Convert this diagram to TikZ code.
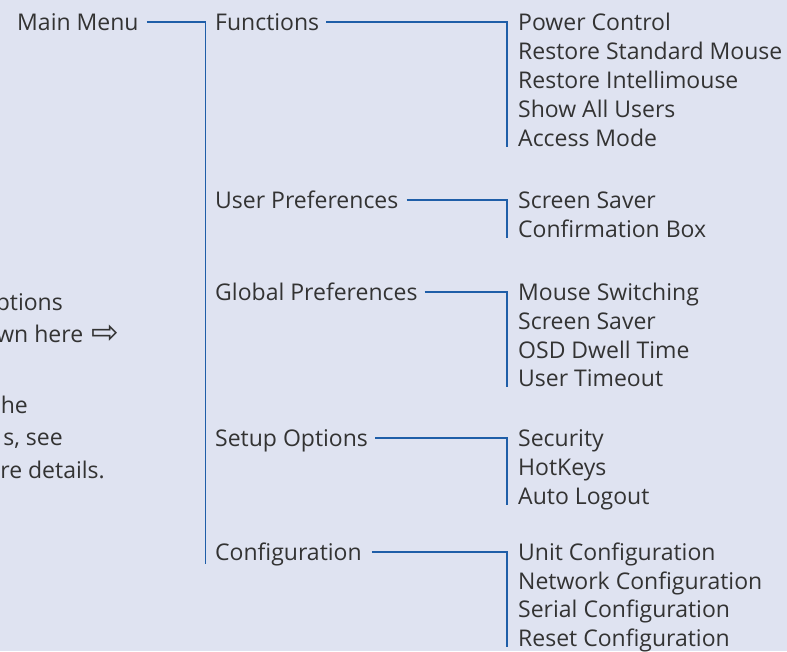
\documentclass[tikz,border=0pt]{standalone}
\usepackage{fontspec}
\setmainfont{Open Sans}
\newfontfamily\symfont{DejaVu Sans}
\definecolor{bg}{RGB}{223,227,241}
\definecolor{linecol}{RGB}{31,94,168}
\definecolor{txtcol}{RGB}{51,51,51}
\begin{document}
\begin{tikzpicture}[x=1pt,y=-1pt,
  lbl/.style={inner sep=0pt, text height=17pt, text depth=0pt, anchor=west,
    font=\fontsize{23}{28}\selectfont, text=txtcol},
  note/.style={lbl, anchor=east},
  conn/.style={draw=linecol, line width=1.6pt}]
\fill[bg] (0,0) rectangle (787,651);
\useasboundingbox (0,0) rectangle (787,651);
\clip (0,0) rectangle (787,651);

% left note (cut off at the left edge)
\node[note] (n1) at (63,301.5) {options};
\node[note] (n2) at (119,333.5) {wn here\hspace{8pt}{\symfont\fontsize{33}{34}\selectfont\raisebox{-1.5pt}{⇨}}};
\node[note] (n3) at (28,404.5) {he};
\node[note] (n4) at (63,436.5) {s, see};
\node[note] (n5) at (105,469.5) {re details.};

% root
\node[lbl] (main) at (17,22) {Main Menu};

% level 1
\node[lbl] (fn) at (215,22) {Functions};
\node[lbl] (up) at (215,200) {User Preferences};
\node[lbl] (gp) at (215,292) {Global Preferences};
\node[lbl] (so) at (215,438) {Setup Options};
\node[lbl] (cf) at (215,552) {Configuration};

% level 2
\node[lbl] (f1) at (518,22) {Power Control};
\node[lbl] (f2) at (518,51) {Restore Standard Mouse};
\node[lbl] (f3) at (518,80) {Restore Intellimouse};
\node[lbl] (f4) at (518,109) {Show All Users};
\node[lbl] (f5) at (518,138) {Access Mode};

\node[lbl] (u1) at (518,200) {Screen Saver};
\node[lbl] (u2) at (518,229) {Confirmation Box};

\node[lbl] (g1) at (518,292) {Mouse Switching};
\node[lbl] (g2) at (518,321) {Screen Saver};
\node[lbl] (g3) at (518,350) {OSD Dwell Time};
\node[lbl] (g4) at (518,378) {User Timeout};

\node[lbl] (s1) at (518,438) {Security};
\node[lbl] (s2) at (518,467) {HotKeys};
\node[lbl] (s3) at (518,496) {Auto Logout};

\node[lbl] (c1) at (518,552) {Unit Configuration};
\node[lbl] (c2) at (518,581) {Network Configuration};
\node[lbl] (c3) at (518,609) {Serial Configuration};
\node[lbl] (c4) at (518,638) {Reset Configuration};

% connectors
\draw[conn] ([xshift=8pt]main.east) -| ([xshift=-9.5pt]fn.west) -- ([xshift=-9.5pt,yshift=-3pt]cf.south west);
\draw[conn] ([xshift=7pt]fn.east) -| ([xshift=-11pt]f1.west) -- ([xshift=-11pt]f5.south west);
\draw[conn] ([xshift=8pt]up.east) -| ([xshift=-11pt]u1.west) -- ([xshift=-11pt]u2.south west);
\draw[conn] ([xshift=7pt]gp.east) -| ([xshift=-11pt]g1.west) -- ([xshift=-11pt]g4.south west);
\draw[conn] ([xshift=7pt]so.east) -| ([xshift=-11pt]s1.west) -- ([xshift=-11pt]s3.south west);
\draw[conn] ([xshift=10pt]cf.east) -| ([xshift=-11pt]c1.west) -- ([xshift=-11pt]c4.south west);
\end{tikzpicture}
\end{document}
